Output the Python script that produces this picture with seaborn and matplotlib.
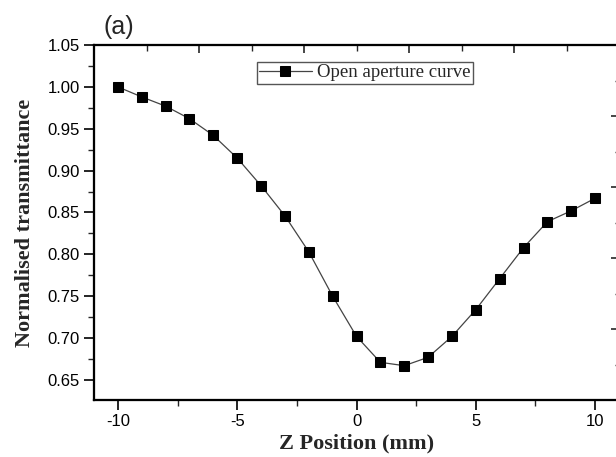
import matplotlib
matplotlib.use('Agg')
import matplotlib.pyplot as plt
from matplotlib.ticker import MultipleLocator, NullFormatter
import seaborn as sns
import pandas as pd

# Open aperture Z-scan data
z_pos = [-10, -9, -8, -7, -6, -5, -4, -3, -2, -1, 0, 1, 2, 3, 4, 5, 6, 7, 8, 9, 10]
transmittance = [1.000, 0.988, 0.977, 0.962, 0.942, 0.915, 0.882, 0.846, 0.803, 0.750,
                 0.702, 0.671, 0.667, 0.677, 0.702, 0.734, 0.771, 0.808, 0.839, 0.852, 0.867]
series_label = 'Open aperture curve'
panel_tag = '(a)'

df = pd.DataFrame({'z': z_pos, 't': transmittance})

sns.set_style('ticks')
plt.rcParams['font.family'] = ['Liberation Sans', 'DejaVu Sans']
plt.rcParams['axes.unicode_minus'] = False

fig = plt.figure(figsize=(6.16, 4.57), dpi=100)
ax = fig.add_axes([0.1526, 0.1247, 0.8523, 0.7768])

sns.lineplot(data=df, x='z', y='t', ax=ax, color='#444444', linewidth=0.9,
             marker='s', markersize=7, markerfacecolor='black',
             markeredgecolor='black', label=series_label)

ax.set_xlim(-11, 11)
ax.set_ylim(0.626, 1.05)
ax.xaxis.set_major_locator(MultipleLocator(5))
ax.xaxis.set_minor_locator(MultipleLocator(2.5))
ax.yaxis.set_major_locator(MultipleLocator(0.05))
ax.yaxis.set_minor_locator(MultipleLocator(0.025))
ax.yaxis.set_major_formatter(plt.FormatStrFormatter('%.2f'))
ax.tick_params(which='major', direction='out', length=7, width=1.2, labelsize=12,
               colors='black')
ax.tick_params(which='minor', direction='out', length=4, width=1.0)
ax.tick_params(axis='x', pad=3)
ax.tick_params(axis='y', pad=3)
for s in ax.spines.values():
    s.set_linewidth(1.5)
    s.set_color('black')

ax.set_xlabel('Z Position (mm)', fontsize=16, fontweight='bold',
              family='Liberation Serif', labelpad=3)
ax.set_ylabel('Normalised transmittance', fontsize=16, fontweight='bold',
              family='Liberation Serif', labelpad=9)

# top and right axes with plain inward ticks
top = ax.twiny()
top.set_xlim(0, 10)
top.xaxis.set_major_locator(MultipleLocator(2))
top.xaxis.set_minor_locator(MultipleLocator(1))
top.xaxis.set_major_formatter(NullFormatter())
top.tick_params(which='major', direction='in', length=6, width=1.2)
top.tick_params(which='minor', direction='in', length=4, width=1.0)

right = ax.twinx()
right.set_ylim(0, 5)
right.yaxis.set_major_locator(MultipleLocator(1))
right.yaxis.set_minor_locator(MultipleLocator(0.5))
right.yaxis.set_major_formatter(NullFormatter())
right.tick_params(which='major', direction='in', length=6, width=1.2)
right.tick_params(which='minor', direction='in', length=3, width=1.0)
for a in (top, right):
    for s in a.spines.values():
        s.set_linewidth(1.5)
        s.set_color('black')

leg = ax.legend(loc='upper left', bbox_to_anchor=(0.31, 0.952), borderaxespad=0,
                fancybox=False, framealpha=1, edgecolor='#555555',
                prop={'family': 'Liberation Serif', 'size': 13.5},
                handlelength=2.8, borderpad=0.12, handletextpad=0.3)
leg.get_frame().set_linewidth(1.0)

fig.text(0.168, 0.94, panel_tag, fontsize=18, ha='left', va='center')

fig.savefig('out.png', dpi=100)
